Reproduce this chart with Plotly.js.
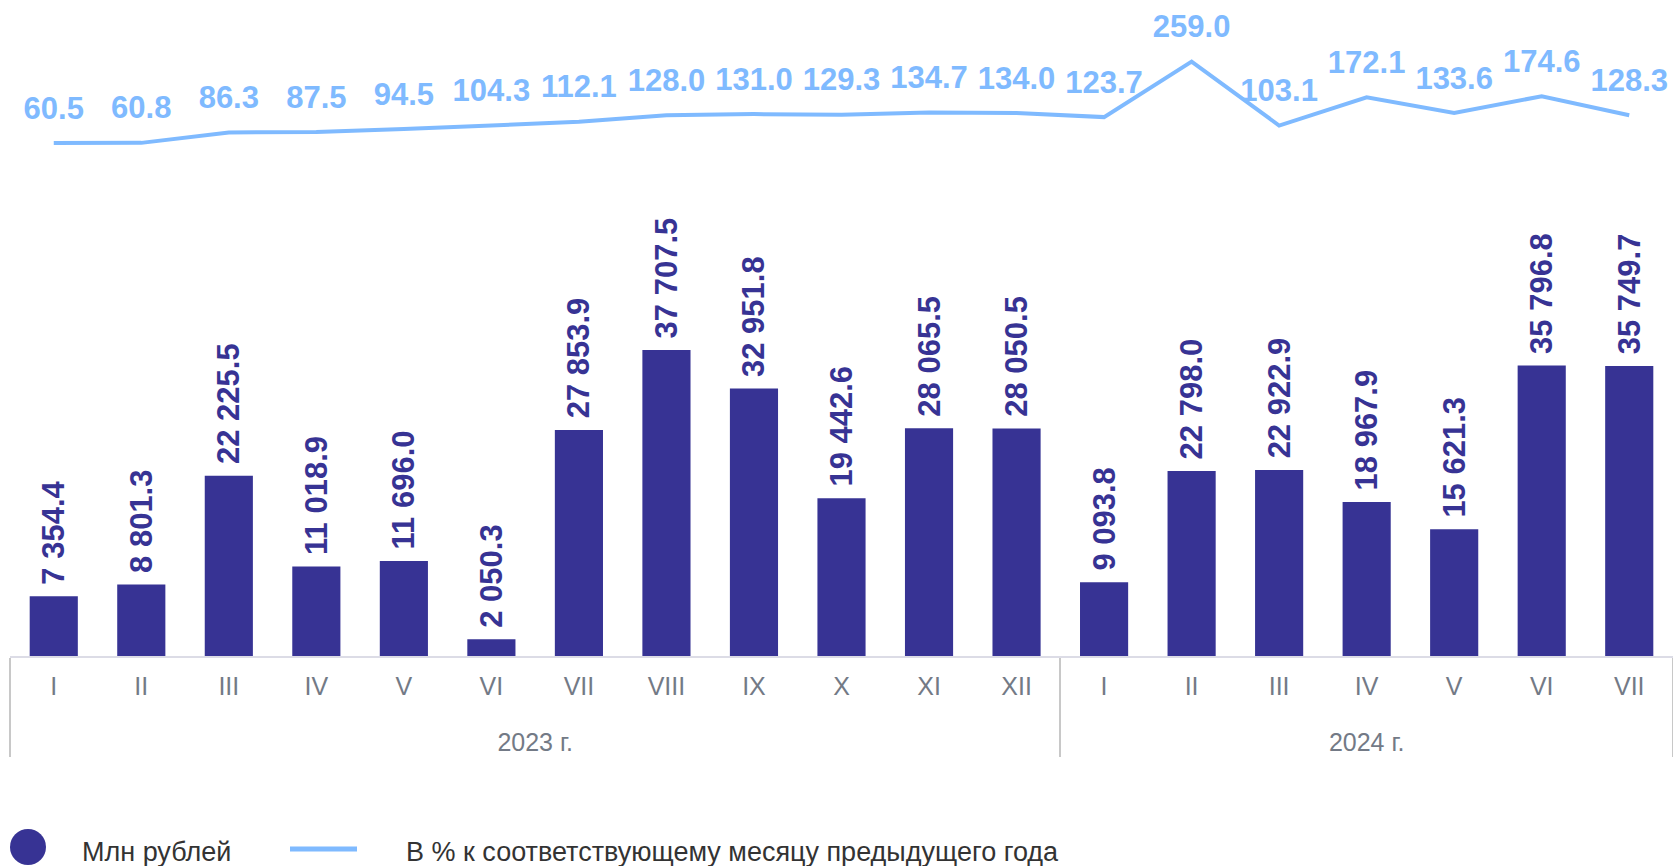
<!DOCTYPE html>
<html>
<head>
<meta charset="utf-8">
<script src="https://cdn.plot.ly/plotly-3.0.1.min.js"></script>
<style>html,body{margin:0;padding:0;background:#fff;overflow:hidden}</style>
</head>
<body>
<div id="chart" style="width:1673px;height:866px"></div>
<script>
// ---- data ----
const months2023 = ['I','II','III','IV','V','VI','VII','VIII','IX','X','XI','XII'];
const months2024 = ['I','II','III','IV','V','VI','VII'];
const year2023 = '2023 г.';
const year2024 = '2024 г.';
const mlnRub2023 = [7354.4, 8801.3, 22225.5, 11018.9, 11696.0, 2050.3, 27853.9, 37707.5, 32951.8, 19442.6, 28065.5, 28050.5];
const mlnRub2024 = [9093.8, 22798.0, 22922.9, 18967.9, 15621.3, 35796.8, 35749.7];
const pct2023 = [60.5, 60.8, 86.3, 87.5, 94.5, 104.3, 112.1, 128.0, 131.0, 129.3, 134.7, 134.0];
const pct2024 = [123.7, 259.0, 103.1, 172.1, 133.6, 174.6, 128.3];
const seriesNames = ['Млн рублей', 'В % к соответствующему месяцу предыдущего года'];

// ---- styles ----
const barColor = '#373394';
const lineColor = '#7fbaff';
const tickColor = '#737a86';
const legendTextColor = '#333333';

const yearRow = y => '<br>' + y;   // extra line pushes the year row lower
const xYears = months2023.map(() => yearRow(year2023)).concat(months2024.map(() => yearRow(year2024)));
const xMonths = months2023.concat(months2024);
const x = [xYears, xMonths];
const bars = mlnRub2023.concat(mlnRub2024);
const pct = pct2023.concat(pct2024);
const nCat = xMonths.length;

const W = 1673, H = 866, ML = 10, MR = 0, MT = 0, MB = 210;
const plotW = W - ML - MR, plotH = H - MT - MB;
const px2paperX = p => (p - ML) / plotW;
const px2paperY = p => (plotH + MT - p) / plotH;

const traces = [
  {
    type: 'bar', x: x, y: bars, name: seriesNames[0],
    marker: {color: barColor},
    texttemplate: '\u00A0%{y:,.1f}',
    textposition: 'outside', textangle: -90, constraintext: 'none',
    cliponaxis: false,
    textfont: {family: 'Liberation Sans, Arial, sans-serif', size: 31, color: barColor, weight: 'bold'},
    showlegend: false, hoverinfo: 'skip'
  },
  {
    type: 'scatter', mode: 'lines+markers+text', x: x, y: pct, yaxis: 'y2', name: seriesNames[1],
    line: {color: lineColor, width: 4},
    marker: {size: 25, opacity: 0, color: lineColor},
    texttemplate: '%{y:.1f}', textposition: 'top center', cliponaxis: false,
    textfont: {family: 'Liberation Sans, Arial, sans-serif', size: 31, color: lineColor, weight: 'bold'},
    showlegend: false, hoverinfo: 'skip'
  }
];

const layout = {
  width: W, height: H, autosize: false,
  margin: {l: ML, r: MR, t: MT, b: MB, pad: 0},
  paper_bgcolor: '#ffffff', plot_bgcolor: '#ffffff',
  separators: '. ',
  bargap: 0.45,
  font: {family: 'Liberation Sans, Arial, sans-serif'},
  xaxis: {
    type: 'multicategory', range: [-0.5, nCat - 0.5], autorange: false,
    showline: true, linecolor: '#dcdce6', linewidth: 2,
    ticks: '', ticklabelstandoff: 7,
    showgrid: false, zeroline: false,
    showdividers: true, dividercolor: '#c8c8c8', dividerwidth: 2,
    tickfont: {family: 'Liberation Sans, Arial, sans-serif', size: 25, color: tickColor}
  },
  yaxis: {range: [0, 80840], visible: false, showgrid: false, zeroline: false, fixedrange: true},
  yaxis2: {range: [-1192, 409.6], overlaying: 'y', visible: false, showgrid: false, zeroline: false},
  showlegend: false,
  shapes: [
    {type: 'circle', xref: 'paper', yref: 'paper',
     x0: px2paperX(10), x1: px2paperX(46), y0: px2paperY(865), y1: px2paperY(829),
     fillcolor: barColor, line: {width: 0}},
    {type: 'line', xref: 'paper', yref: 'paper',
     x0: px2paperX(290), x1: px2paperX(357), y0: px2paperY(849), y1: px2paperY(849),
     line: {color: lineColor, width: 5}}
  ],
  annotations: [
    {xref: 'paper', yref: 'paper', x: px2paperX(80), y: px2paperY(852), xanchor: 'left', yanchor: 'middle',
     text: seriesNames[0], showarrow: false, font: {size: 27, color: legendTextColor}},
    {xref: 'paper', yref: 'paper', x: px2paperX(404), y: px2paperY(852), xanchor: 'left', yanchor: 'middle',
     text: seriesNames[1], showarrow: false, font: {size: 27, color: legendTextColor}}
  ]
};

Plotly.newPlot('chart', traces, layout, {displayModeBar: false, staticPlot: true});
</script>
</body>
</html>
